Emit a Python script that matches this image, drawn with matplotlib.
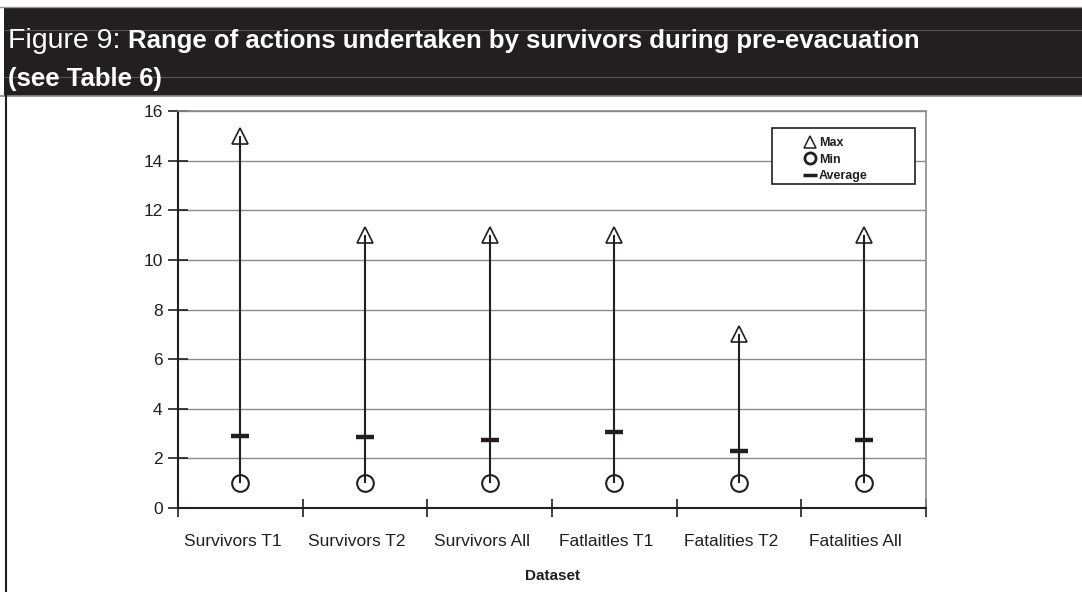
import numpy as np
import matplotlib.pyplot as plt
from matplotlib.lines import Line2D
from matplotlib.patches import Rectangle
from matplotlib.transforms import ScaledTranslation

# data
datasets = ['Survivors T1', 'Survivors T2', 'Survivors All',
            'Fatlaitles T1', 'Fatalities T2', 'Fatalities All']
max_vals = [15, 11, 11, 11, 7, 11]
min_vals = [1, 1, 1, 1, 1, 1]
avg_vals = [2.9, 2.85, 2.75, 3.05, 2.3, 2.75]
y_ticks = [0, 2, 4, 6, 8, 10, 12, 14, 16]

plt.rcParams['font.family'] = ['Liberation Sans', 'DejaVu Sans']
ink = '#231f20'

fig = plt.figure(figsize=(10.82, 5.92), dpi=100)

# dark title banner
fig.patches.append(Rectangle((4 / 1082, 1 - 96 / 592), 1, 88 / 592,
                             transform=fig.transFigure, facecolor=ink,
                             edgecolor='none', zorder=0))
fig.add_artist(Line2D([0, 1], [1 - 7 / 592] * 2, color='#9a9a9a', lw=1))
fig.add_artist(Line2D([4 / 1082, 1], [1 - 30 / 592] * 2, color='#555555', lw=0.8))
fig.add_artist(Line2D([4 / 1082, 1], [1 - 77 / 592] * 2, color='#555555', lw=0.8))
fig.add_artist(Line2D([0, 1], [1 - 96 / 592] * 2, color='#8a8a8a', lw=1.2))
fig.add_artist(Line2D([6 / 1082] * 2, [0, 1 - 96 / 592], color=ink, lw=1.5))

t1 = fig.text(8 / 1082, 1 - 48 / 592, 'Figure 9: ', color='white', fontsize=20.5)
fig.canvas.draw()
bb = t1.get_window_extent()
fig.text(bb.x1 / 1082, 1 - 48 / 592,
         'Range of actions undertaken by survivors during pre-evacuation',
         color='white', fontsize=18.5, fontweight='bold')
fig.text(8 / 1082, 1 - 86 / 592, '(see Table 6)', color='white', fontsize=18.5,
         fontweight='bold')

ax = fig.add_axes([178 / 1082, 1 - 508 / 592, (926 - 178) / 1082, (508 - 111) / 592])
x = np.arange(len(datasets))

ax.vlines(x, min_vals, max_vals, color=ink, lw=1.5, zorder=3)
ax.plot(x, max_vals, linestyle='none', marker='^', markersize=12,
        markerfacecolor='none', markeredgecolor=ink, mew=1.2, zorder=4)
ax.plot(x, min_vals, linestyle='none', marker='o', markersize=12,
        markerfacecolor='none', markeredgecolor=ink, mew=1.5, zorder=4)
ax.plot(x, avg_vals, linestyle='none', marker='_', markersize=13,
        color=ink, mew=3.2, zorder=5)

ax.set_xlim(-0.5, len(datasets) - 0.5)
ax.set_ylim(0, 16)
ax.set_yticks(y_ticks)
ax.yaxis.grid(True, color='#8a8a8a', lw=1)
ax.set_axisbelow(True)
ax.tick_params(axis='y', direction='inout', length=14, width=1.2, labelsize=12.5,
               color=ink, labelcolor=ink, pad=4)

ax.set_xticks(x)
ax.set_xticklabels(datasets)
ax.set_xticks(np.arange(-0.5, len(datasets)), minor=True)
ax.tick_params(axis='x', which='major', length=0, labelsize=12.5,
               labelcolor=ink, pad=19)
ax.tick_params(axis='x', which='minor', direction='inout', length=13, width=1.2,
               color=ink)
# the original labels sit a little left of their markers
shift = ScaledTranslation(-8 / 100, 0, fig.dpi_scale_trans)
for lab in ax.get_xticklabels():
    lab.set_transform(lab.get_transform() + shift)
ax.set_xlabel('Dataset', fontsize=11, fontweight='bold', color=ink, labelpad=14)

for side in ['left', 'bottom']:
    ax.spines[side].set_color(ink)
    ax.spines[side].set_linewidth(1.5)
for side in ['right', 'top']:
    ax.spines[side].set_color('#8a8a8a')
    ax.spines[side].set_linewidth(1.2)

# legend box drawn separately, entries sit left of centre like the original
ax.add_patch(Rectangle(((772 - 178) / 748, 1 - (184 - 111) / 397),
                       143 / 748, 56 / 397, transform=ax.transAxes,
                       facecolor='white', edgecolor=ink, lw=1.2, zorder=6))
handles = [
    Line2D([], [], linestyle='none', marker='^', markersize=9,
           markerfacecolor='none', markeredgecolor=ink, mew=1.1),
    Line2D([], [], linestyle='none', marker='o', markersize=8,
           markerfacecolor='none', markeredgecolor=ink, mew=2),
    Line2D([], [], linestyle='none', marker='_', markersize=10,
           color=ink, mew=2.5),
]
leg = ax.legend(handles, ['Max', 'Min', 'Average'], loc='upper left',
                bbox_to_anchor=((804 - 178) / 748, 1 - (137 - 111) / 397),
                prop={'size': 9, 'weight': 'bold'}, frameon=False,
                handlelength=0.9, handletextpad=0.3, labelspacing=0.38,
                borderpad=0, borderaxespad=0)
leg.set_zorder(7)
for t in leg.get_texts():
    t.set_color(ink)

fig.savefig('out.png', dpi=100)
